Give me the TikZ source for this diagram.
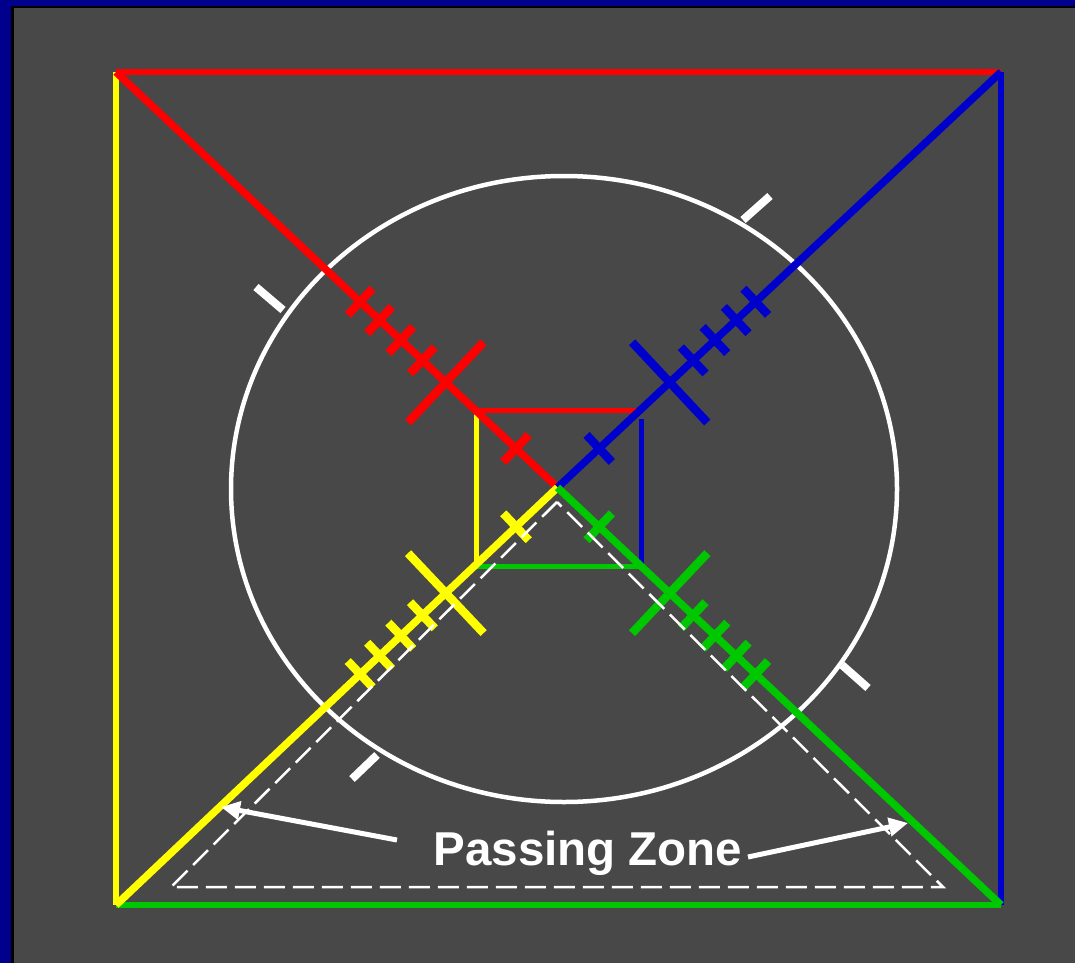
\documentclass[tikz,border=0pt]{standalone}
\usepackage{fontspec}
\setmainfont{Liberation Sans}
\usetikzlibrary{calc,arrows.meta}
\definecolor{bg}{HTML}{484848}
\definecolor{frameblue}{HTML}{00008C}
\definecolor{dred}{HTML}{FF0000}
\definecolor{dyel}{HTML}{FFFF00}
\definecolor{dblue}{HTML}{0000CC}
\definecolor{dgreen}{HTML}{00C800}
\newcommand\hashat[4]{%
  \path ($(C)!#3!(#2)$) coordinate (hp);
  \draw[#1, hashmark] ($(hp)!#4!90:(#2)$) -- ($(hp)!#4!-90:(#2)$);}
\newcommand\hashset[2]{%
  \hashat{#1}{#2}{0.094}{18.5pt}
  \hashat{#1}{#2}{0.253}{55pt}
  \hashat{#1}{#2}{0.306}{18pt}
  \hashat{#1}{#2}{0.355}{18pt}
  \hashat{#1}{#2}{0.403}{18pt}
  \hashat{#1}{#2}{0.447}{18pt}}
\begin{document}
\begin{tikzpicture}[x=1pt,y=-1pt,
  outer/.style={line width=5.5pt},
  diag/.style={line width=7.5pt},
  inner/.style={line width=5pt},
  hashmark/.style={line width=8.5pt},
  whitetick/.style={white,line width=8pt},
  zone/.style={white,line width=2.5pt,dash pattern=on 21pt off 8pt},
  pointer/.style={white,line width=5pt,-{Triangle[length=19pt,width=18pt]}},
  label/.style={white,font=\fontsize{47.5}{57}\selectfont\bfseries,inner sep=0pt,anchor=base}]
\fill[frameblue] (0,0) rectangle (1075,963);
\fill[black] (11,6) rectangle (1075,963);
\fill[bg] (14,8.5) rectangle (1075,963);
\useasboundingbox (0,0) rectangle (1075,963);
% coordinates
\coordinate (C) at (557.5,487.5);
\coordinate (TL) at (116,72);
\coordinate (TR) at (1001,72);
\coordinate (BL) at (116,905);
\coordinate (BR) at (1001,905);
\coordinate (iTL) at (476,410.5);
\coordinate (iTR) at (641.5,410.5);
\coordinate (iTRb) at (641.5,419);
\coordinate (iBR) at (641.5,566.5);
\coordinate (iBL) at (476,566.5);
% circle
\draw[white,line width=4.5pt] (564,489) ellipse [x radius=333pt, y radius=313pt];
% white ticks on the circle
\coordinate (w1a) at (283,310); \coordinate (w1b) at (256,287);
\coordinate (w2a) at (743,220); \coordinate (w2b) at (770,196);
\coordinate (w3a) at (842,665); \coordinate (w3b) at (868,688);
\coordinate (w4a) at (377,755); \coordinate (w4b) at (352,779);
\draw[whitetick] (w1a) -- (w1b);
\draw[whitetick] (w2a) -- (w2b);
\draw[whitetick] (w3a) -- (w3b);
\draw[whitetick] (w4a) -- (w4b);
% outer square
\draw[dred,outer] (TL) -- (TR);
\draw[dyel,outer] (TL) -- (BL);
\draw[dblue,outer] (TR) -- (BR);
\draw[dgreen,outer] (BL) -- (BR);
% inner square
\draw[dred,inner] (iTL) -- (iTR);
\draw[dyel,inner] (iTL) -- (iBL);
\draw[dblue,inner] (iTRb) -- (iBR);
\draw[dgreen,inner] (iBL) -- (iBR);
% diagonals
\draw[dred,diag] (TL) -- (C);
\draw[dblue,diag] (TR) -- (C);
\draw[dyel,diag] (BL) -- (C);
\draw[dgreen,diag] (BR) -- (C);
% hash marks
\hashset{dred}{TL}
\hashset{dblue}{TR}
\hashset{dyel}{BL}
\hashset{dgreen}{BR}
% passing zone
\coordinate (zA) at (557,502);
\coordinate (zL) at (171,887);
\coordinate (zR) at (943,887);
\draw[zone] (zA) -- (zL) -- (zR) -- cycle;
\node[label] (txt) at (588,865) {Passing Zone};
\coordinate (a1s) at (397,840); \coordinate (a1e) at (221,807);
\coordinate (a2s) at (748,857); \coordinate (a2e) at (908,823);
\draw[pointer] (a1s) -- (a1e);
\draw[pointer] (a2s) -- (a2e);
\end{tikzpicture}
\end{document}
